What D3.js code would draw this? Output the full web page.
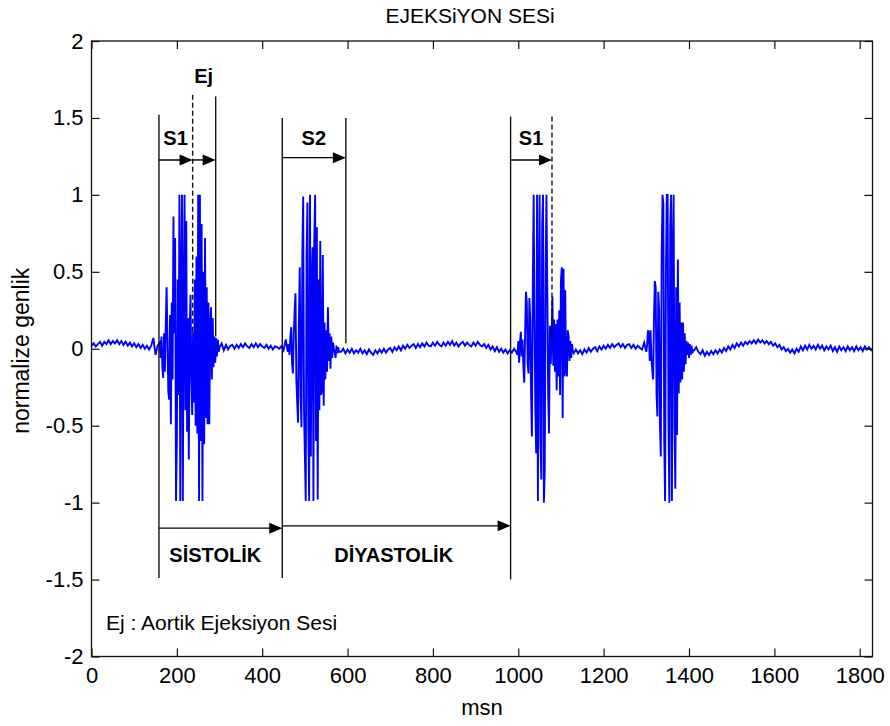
<!DOCTYPE html>
<html>
<head>
<meta charset="utf-8">
<script src="https://cdn.jsdelivr.net/npm/d3@7"></script>
<style>
  body { margin: 0; background: #fff; }
  svg { display: block; }
  text { font-family: "Liberation Sans", Arial, sans-serif; fill: #000; }
</style>
</head>
<body>
<svg id="chart" width="890" height="726"></svg>
<script>
// Phonocardiogram: normalized amplitude over time (msn), sampled in segments.
// Quiet stretches every 5 ms, sound bursts every 2 ms.
const quietA = [0.02, 0.035, 0.015, 0.03, 0.045, 0.02, 0.045, 0.03, 0.055, 0.03, 0.05, 0.035,
  0.055, 0.03, 0.05, 0.025, 0.045, 0.02, 0.04, 0.015, 0.035, 0.01, 0.03, 0.005, 0.025, 0.0,
  0.02, -0.005, 0.02, 0.07, -0.04, 0.02];
const burstS1 = [0.04, -0.06, 0.08, -0.12, -0.19, 0.10, -0.15, 0.16, 0.40, 0.05, -0.28, -0.33,
  0.22, -0.49, 0.30, -0.20, 0.86, 0.10, 0.72, -0.99, -0.60, 0.45, -0.30, 1.00, -0.99, 0.40,
  1.00, -0.99, 0.30, 1.00, -0.40, 0.83, -0.54, 0.20, -0.72, 0.10, 0.35, -0.20, -0.43, 0.11,
  -0.35, 0.45, -0.50, 0.60, -0.55, 1.00, -0.99, 1.00, -0.60, 0.81, -0.99, 0.50, -0.62, 0.72,
  -0.45, 0.40, -0.49, 0.30, -0.49, 0.15, 0.27, -0.20, 0.20, -0.12, 0.08, -0.09, 0.07, -0.05,
  0.06, -0.02];
const quietB = [0.01, 0.035, -0.01, 0.025, -0.005, 0.02, 0.025, 0.0, 0.025, 0.005, 0.03, 0.01,
  0.035, 0.015, 0.005, 0.03, 0.01, 0.035, 0.01, 0.03, 0.015, 0.005, 0.025, 0.0, 0.02, -0.005,
  0.015, 0.01, 0.0, 0.015, -0.01, 0.06, -0.02];
const burstS2 = [0.03, -0.04, 0.08, 0.14, -0.10, -0.16, 0.10, 0.25, 0.36, -0.20, -0.35, -0.48,
  0.20, 0.53, -0.30, -0.51, 0.60, 0.99, -0.40, -0.70, -0.99, 0.62, 0.95, -0.50, -0.99, 1.00,
  -0.70, 0.40, 0.66, -0.99, 0.70, 1.00, -0.60, 0.79, -0.98, 0.45, -0.40, 0.70, -0.30, -0.27,
  0.61, -0.37, 0.17, -0.20, 0.12, -0.15, 0.27, -0.08, 0.10, -0.13, 0.08, -0.06, 0.04, 0.0,
  -0.03, -0.06, 0.02, -0.03, 0.01, -0.02];
const quietC = [-0.02, 0.0, -0.03, -0.005, -0.025, 0.0, -0.03, -0.01, -0.025, 0.0, -0.03,
  -0.01, -0.035, -0.005, -0.025, -0.04, -0.01, -0.03, -0.005, -0.025, 0.0, -0.025, -0.005, 0.005,
  -0.02, 0.01, -0.01, 0.015, -0.01, 0.02, 0.0, 0.025, 0.005, 0.02, 0.03, 0.005, 0.03,
  0.01, 0.035, 0.015, 0.04, 0.02, 0.015, 0.04, 0.02, 0.045, 0.025, 0.015, 0.04, 0.02, 0.045,
  0.025, 0.05, 0.02, 0.04, 0.015, 0.035, 0.045, 0.02, 0.04, 0.025, 0.015, 0.04, 0.02, 0.045,
  0.025, 0.015, 0.03, 0.005, 0.025, -0.005, 0.015, -0.015, 0.01, -0.02, 0.0, -0.025, -0.005,
  -0.03, -0.01, -0.025, 0.0, -0.02];
const burstS1b = [-0.04, 0.05, -0.09, 0.04, 0.11, -0.05, 0.06, -0.12, -0.22, 0.10, 0.37, 0.30,
  -0.10, -0.16, 0.33, 0.20, -0.30, -0.57, 0.40, 1.00, 0.20, -0.40, -0.68, 1.00, -0.99, 0.30,
  1.00, -0.60, -0.85, 0.80, 1.00, -1.00, -0.79, 0.50, 1.00, 0.40, -0.30, -0.55, 0.15, -0.10,
  0.05, 0.34, -0.11, 0.19, -0.15, 0.16, -0.27, 0.19, -0.18, 0.25, -0.30, 0.45, 0.53, -0.45,
  0.52, -0.18, 0.38, -0.15, -0.18, 0.12, 0.08, -0.08, 0.05, -0.06, 0.03, -0.02];
const quietD = [-0.03, -0.005, -0.03, -0.01, -0.035, -0.005, -0.025, 0.005, -0.02, 0.0, 0.01,
  -0.015, 0.015, -0.005, 0.02, 0.0, 0.025, 0.005, 0.03, 0.01, 0.025, 0.035, 0.01, 0.03, 0.005,
  0.025, 0.03, 0.005, 0.025, 0.0, 0.02, 0.005, -0.005, 0.04];
const burstLast = [-0.02, 0.03, 0.12, 0.10, -0.08, 0.12, -0.06, -0.14, -0.20, 0.20, 0.44, 0.40,
  -0.30, -0.44, 0.37, 0.25, -0.50, -0.70, 0.60, 1.00, 0.94, -0.60, -0.99, 0.50, 1.00, 1.00,
  -0.50, -1.00, 0.80, 1.00, -0.99, 0.60, 1.00, -0.50, -0.91, 0.40, -0.56, 0.58, -0.29, 0.30,
  -0.22, 0.17, -0.20, 0.17, -0.15, 0.10, -0.10, 0.05, -0.04, 0.04, -0.06, 0.03, -0.04, 0.02,
  -0.03, -0.01];
const quietE = [-0.01, 0.01, -0.02, -0.035, -0.01, -0.045, -0.02, -0.04, -0.015, -0.035, -0.01,
  -0.03, -0.005, -0.025, 0.005, -0.015, 0.015, -0.005, 0.025, 0.005, 0.035, 0.015, 0.04, 0.02,
  0.045, 0.03, 0.05, 0.035, 0.055, 0.035, 0.06, 0.04, 0.055, 0.035, 0.05, 0.03, 0.045, 0.02,
  0.035, 0.01, 0.025, -0.005, 0.01, -0.015, 0.0, -0.025, -0.005, -0.03, 0.0, -0.02, 0.015,
  -0.01, 0.02, -0.005, 0.025, 0.0, 0.02, -0.005, 0.025, 0.0, 0.02, -0.01, 0.015, -0.005, 0.02,
  -0.015, 0.01, -0.02, 0.015, -0.01, 0.01, -0.015, 0.015, -0.01, 0.01, -0.015, 0.015, -0.01,
  0.01, -0.015, 0.015, -0.005, 0.01, -0.01, 0.005];

// [start time (msn), step (msn), samples]
const segments = [
  [0, 5, quietA], [160, 2, burstS1], [300, 5, quietB], [462, 2, burstS2],
  [585, 5, quietC], [998, 2, burstS1b], [1130, 5, quietD], [1300, 2, burstLast],
  [1412, 5, quietE]
];

const xTicks = [0, 200, 400, 600, 800, 1000, 1200, 1400, 1600, 1800];
const yTicks = [-2, -1.5, -1, -0.5, 0, 0.5, 1, 1.5, 2];

// Annotation marks in data units: [time, top value, bottom value]
const solidMarks = [[158, 1.52, -1.49], [291, 1.64, 0.08], [447, 1.50, -1.49],
  [596, 1.50, 0.035], [982, 1.51, -1.50]];
const dashedMarks = [[237, 1.65, 0.11], [1079, 1.51, 0.06]];
// [from time, to time, level]
const arrows = [[158, 237, 1.227], [237, 291, 1.227], [447, 596, 1.242], [982, 1079, 1.227],
  [158, 447, -1.166], [447, 982, -1.151]];
// [text, centre time, baseline value]
const phaseLabels = [["S1", 197, 1.326], ["Ej", 263, 1.726], ["S2", 521, 1.326],
  ["S1", 1030, 1.326], ["SİSTOLİK", 290, -1.389], ["DİYASTOLİK", 708, -1.389]];

const svg = d3.select("#chart");
const box = { left: 91.5, right: 872.5, top: 41, bottom: 656.5 };
const x = d3.scaleLinear().domain([0, 1830]).range([box.left, box.right]);
const y = d3.scaleLinear().domain([-2, 2]).range([box.bottom, box.top]);

const points = segments.flatMap(([t0, dt, vals]) => vals.map((v, i) => [t0 + i * dt, v]));

svg.append("defs").append("clipPath").attr("id", "plotClip")
  .append("rect").attr("x", box.left).attr("y", box.top)
  .attr("width", box.right - box.left).attr("height", box.bottom - box.top);

// signal trace
svg.append("path")
  .datum(points)
  .attr("clip-path", "url(#plotClip)")
  .attr("fill", "none")
  .attr("stroke", "#0000ff")
  .attr("stroke-width", 1.9)
  .attr("stroke-linejoin", "miter")
  .attr("d", d3.line().x(d => x(d[0])).y(d => y(d[1])));

// axes with inward ticks on every side
const fmt = d => String(d);
function styleAxis(g) {
  g.select(".domain").remove();
  g.selectAll(".tick line").attr("stroke", "#111").attr("stroke-width", 1.2);
  g.selectAll(".tick text").attr("font-size", 22).attr("fill", "#000")
    .style("font-family", '"Liberation Sans", Arial, sans-serif');
}
svg.append("g").attr("transform", `translate(0,${box.bottom})`)
  .call(d3.axisBottom(x).tickValues(xTicks).tickFormat(fmt).tickSize(-8).tickPadding(11))
  .call(styleAxis);
svg.append("g").attr("transform", `translate(0,${box.top})`)
  .call(d3.axisTop(x).tickValues(xTicks).tickFormat("").tickSize(-8))
  .call(styleAxis);
svg.append("g").attr("transform", `translate(${box.left},0)`)
  .call(d3.axisLeft(y).tickValues(yTicks).tickFormat(fmt).tickSize(-8).tickPadding(8))
  .call(styleAxis);
svg.append("g").attr("transform", `translate(${box.right},0)`)
  .call(d3.axisRight(y).tickValues(yTicks).tickFormat("").tickSize(-8))
  .call(styleAxis);

svg.append("rect")
  .attr("x", box.left).attr("y", box.top)
  .attr("width", box.right - box.left).attr("height", box.bottom - box.top)
  .attr("fill", "none").attr("stroke", "#111").attr("stroke-width", 1.3);

// phase boundaries
const ann = svg.append("g").attr("stroke", "#111").attr("stroke-width", 1.4);
ann.selectAll("line.solid").data(solidMarks).join("line").attr("class", "solid")
  .attr("x1", d => x(d[0])).attr("x2", d => x(d[0]))
  .attr("y1", d => y(d[1])).attr("y2", d => y(d[2]));
ann.selectAll("line.dashed").data(dashedMarks).join("line").attr("class", "dashed")
  .attr("stroke-dasharray", "5,3")
  .attr("x1", d => x(d[0])).attr("x2", d => x(d[0]))
  .attr("y1", d => y(d[1])).attr("y2", d => y(d[2]));

// duration arrows
const headLen = 13, headHalf = 5.5;
const arr = svg.append("g");
arr.selectAll("line").data(arrows).join("line")
  .attr("stroke", "#000").attr("stroke-width", 1.4)
  .attr("x1", d => x(d[0])).attr("x2", d => x(d[1]) - 2)
  .attr("y1", d => y(d[2])).attr("y2", d => y(d[2]));
arr.selectAll("path").data(arrows).join("path")
  .attr("fill", "#000")
  .attr("d", d => {
    const tx = x(d[1]), ty = y(d[2]);
    return `M${tx},${ty}L${tx - headLen},${ty - headHalf}L${tx - headLen},${ty + headHalf}Z`;
  });

svg.append("g").selectAll("text").data(phaseLabels).join("text")
  .attr("x", d => x(d[1])).attr("y", d => y(d[2]))
  .attr("text-anchor", "middle")
  .attr("font-size", 20).attr("font-weight", "bold")
  .text(d => d[0]);

// note, title and axis labels
svg.append("text").attr("x", 106).attr("y", 630).attr("font-size", 21)
  .text("Ej : Aortik Ejeksiyon Sesi");
svg.append("text").attr("x", 470).attr("y", 23).attr("text-anchor", "middle")
  .attr("font-size", 21).text("EJEKSiYON SESi");
svg.append("text").attr("x", (box.left + box.right) / 2).attr("y", 715)
  .attr("text-anchor", "middle").attr("font-size", 22).text("msn");
svg.append("text").attr("transform", `translate(29,${(box.top + box.bottom) / 2 + 2}) rotate(-90)`)
  .attr("text-anchor", "middle").attr("font-size", 23).text("normalize genlik");
</script>
</body>
</html>
